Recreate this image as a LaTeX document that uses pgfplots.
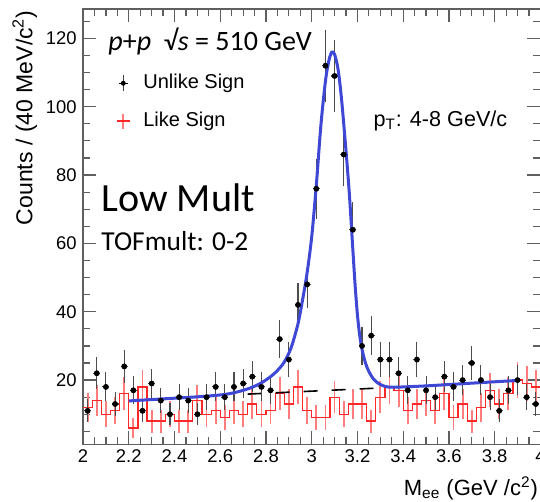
\documentclass[border=0pt]{standalone}
\usepackage{fontspec}
\setmainfont{Liberation Sans}
\newfontfamily\calib{Carlito}
\usepackage{pgfplots}
\usepackage{pgfplotstable}
\pgfplotsset{compat=1.18}

\definecolor{fitblue}{RGB}{62,72,212}
\definecolor{lsred}{RGB}{255,40,40}
\definecolor{lserr}{RGB}{255,125,125}
\definecolor{framegray}{RGB}{95,95,95}

% unlike-sign pairs: bin centre, counts, stat. error
\pgfplotstableread{
x    y   ey
2.02 11  3.32
2.06 22  4.69
2.10 18  4.24
2.14 13  3.61
2.18 24  4.90
2.22 17  4.12
2.26 11  3.32
2.30 19  4.36
2.34 14  3.74
2.38 10  3.16
2.42 15  3.87
2.46 14  3.74
2.50 10  3.16
2.54 15  3.87
2.58 18  4.24
2.62 15  3.87
2.66 18  4.24
2.70 19  4.36
2.74 21  4.58
2.78 18  4.24
2.82 17  4.12
2.86 32  5.66
2.90 26  5.10
2.94 42  6.48
2.98 48  6.93
3.02 76  8.72
3.06 112 10.58
3.10 109 10.44
3.14 86  9.27
3.18 64  8.00
3.22 30  5.48
3.26 33  5.74
3.30 26  5.10
3.34 26  5.10
3.38 22  4.69
3.42 17  4.12
3.46 26  5.10
3.50 17  4.12
3.54 15  3.87
3.58 21  4.58
3.62 18  4.24
3.66 20  4.47
3.70 25  5.00
3.74 20  4.47
3.78 15  3.87
3.82 11  3.32
3.86 17  4.12
3.90 20  4.47
3.94 15  3.87
3.98 13  3.61
}\unlike

% like-sign pairs: left edge, bin centre, counts, error
\pgfplotstableread{
xl   x    y  ey
2.00 2.02 12 4.16
2.04 2.06 14 4.49
2.08 2.10 10 3.79
2.12 2.14 11 3.98
2.16 2.18 16 4.80
2.20 2.22 6  2.94
2.24 2.26 18 5.09
2.28 2.30 8  3.39
2.32 2.34 8  3.39
2.36 2.38 10 3.79
2.40 2.42 8  3.39
2.44 2.46 8  3.39
2.48 2.50 14 4.49
2.52 2.54 10 3.79
2.56 2.58 11 3.98
2.60 2.62 9  3.60
2.64 2.66 11 3.98
2.68 2.70 10 3.79
2.72 2.74 13 4.33
2.76 2.78 10 3.79
2.80 2.82 11 3.98
2.84 2.86 16 4.80
2.88 2.90 13 4.33
2.92 2.94 18 5.09
2.96 2.98 11 3.98
3.00 3.02 9  3.60
3.04 3.06 9  3.60
3.08 3.10 15 4.65
3.12 3.14 10 3.79
3.16 3.18 13 4.33
3.20 3.22 13 4.33
3.24 3.26 8  3.39
3.28 3.30 15 4.65
3.32 3.34 18 5.09
3.36 3.38 17 4.95
3.40 3.42 11 3.98
3.44 3.46 13 4.33
3.48 3.50 14 4.49
3.52 3.54 11 3.98
3.56 3.58 16 4.80
3.60 3.62 9  3.60
3.64 3.66 13 4.33
3.68 3.70 8  3.39
3.72 3.74 12 4.16
3.76 3.78 17 4.95
3.80 3.82 13 4.33
3.84 3.86 16 4.80
3.88 3.90 20 5.37
3.92 3.94 19 5.23
3.96 3.98 18 5.09
4.00 nan  18 nan
}\likes

\begin{document}
\begin{tikzpicture}
\begin{axis}[
  at={(0,0)}, anchor=south west,
  scale only axis,
  width=228.5pt, height=217.5pt,
  xmin=2, xmax=4, ymin=1.2, ymax=128.6,
  xtick={2,2.2,2.4,2.6,2.8,3,3.2,3.4,3.6,3.8,4},
  minor x tick num=3,
  ytick={20,40,60,80,100,120},
  minor ytick={5,10,15,25,30,35,45,50,55,65,70,75,85,90,95,105,110,115,125},
  axis line style={framegray, line width=0.6pt},
  tick style={framegray, line width=0.6pt},
  major tick length=6.5pt, minor tick length=3.5pt,
  tick label style={font=\fontsize{9.2}{10}\selectfont,
    /pgf/number format/assume math mode=true},
  xticklabel style={inner sep=0pt, yshift=-2.6pt},
  yticklabel style={inner sep=0pt, xshift=-3pt},
  legend cell align=left,
  legend style={at={(0.0722,0.851)}, anchor=north west,
    draw=none, fill=none, inner sep=0pt, outer sep=0pt,
    row sep=9.5pt, column sep=0pt,
    font=\fontsize{10}{12}\selectfont,
    nodes={inner sep=0pt, text height=7.2pt, text depth=2.2pt}},
]
\addlegendimage{legend image code/.code={
  \draw[draw=black!75, line width=0.6pt] (0pt,-4pt) -- (0pt,4pt);
  \draw[draw=black, line width=0.6pt] (-2.2pt,0pt) -- (2.2pt,0pt);
  \fill[fill=black, draw=none] (0pt,0pt) circle (1.25pt);
  \path[draw=none, fill=none] (-3.5pt,-0.1pt) rectangle (10pt,0.1pt);}}
\addlegendentry{Unlike Sign}
\addlegendimage{legend image code/.code={
  \draw[draw=lserr, line width=0.9pt] (0pt,-3.7pt) -- (0pt,3.7pt);
  \draw[draw=lsred, line width=0.6pt] (-3.3pt,0pt) -- (3.3pt,0pt);
  \path[draw=none, fill=none] (-3.5pt,-0.1pt) rectangle (10pt,0.1pt);}}
\addlegendentry{Like Sign}

% like-sign: error bars and step histogram
\addplot[forget plot, only marks, mark=*, mark size=0pt, lserr,
  error bars/.cd, y dir=both, y explicit, error mark=none,
  error bar style={lserr, line width=0.9pt}]
  table[x=x, y=y, y error=ey] {\likes};
\addplot[forget plot, const plot, lsred, line width=0.6pt, mark=none]
  table[x=xl, y=y] {\likes};

% linear background under the peak
\addplot[forget plot, black, line width=0.8pt, dash pattern=on 7pt off 7pt]
  coordinates {(2.72,15.9) (3.27,17.6)};

% unlike-sign data
\addplot[forget plot, only marks, mark=*, mark size=1.25pt, black,
  error bars/.cd, x dir=both, x fixed=0.015, y dir=both, y explicit,
  error mark=none, error bar style={black!70, line width=0.55pt}]
  table[x=x, y=y, y error=ey] {\unlike};

% fit
\addplot[forget plot, fitblue, line width=1.5pt, smooth, tension=0.5]
  coordinates {
  (2.20,13.9) (2.30,14.3) (2.40,14.7) (2.50,15.1) (2.56,15.4) (2.62,15.8)
  (2.66,16.3) (2.70,17.0) (2.74,17.9) (2.78,19.2) (2.82,21.0) (2.85,22.8)
  (2.88,25.3) (2.91,29.5) (2.94,36.5) (2.96,43.5) (2.98,51.5) (3.00,62.0)
  (3.02,77.0) (3.04,94.5) (3.06,107.5) (3.075,113.5) (3.088,116.0)
  (3.10,115.3) (3.115,111.0) (3.13,102.5) (3.15,87.0) (3.165,74.0)
  (3.18,58.0) (3.19,47.5) (3.20,39.0) (3.21,33.0) (3.22,29.0) (3.235,25.0)
  (3.25,22.5) (3.27,20.3) (3.29,19.1) (3.31,18.4) (3.33,18.0) (3.36,17.9)
  (3.40,18.0) (3.50,18.3) (3.60,18.7) (3.70,19.1) (3.80,19.5) (3.90,19.9)
  };
\end{axis}

\node[rotate=90, anchor=base east, inner sep=0pt,
  font=\fontsize{11.5}{12}\selectfont] at (-25.3pt,217pt)
  {Counts / (40 MeV/c\textsuperscript{2})};
\node[anchor=base east, inner sep=0pt, font=\fontsize{11}{12}\selectfont]
  at (227.5pt,-25.6pt) {M\textsubscript{ee} (GeV /c\textsuperscript{2})};
\node[anchor=base west, inner sep=0pt, font=\calib\fontsize{14}{15}\selectfont]
  at (12.5pt,197pt) {\textit{p}+\textit{p}\ \ √\textit{s} = 510 GeV};
\node[anchor=base west, inner sep=0pt, font=\fontsize{10.8}{12}\selectfont]
  at (145pt,159pt) {p\textsubscript{T}: 4-8 GeV/c};
\node[anchor=base west, inner sep=0pt, font=\calib\fontsize{20}{22}\selectfont]
  at (9pt,116.2pt) {Low Mult};
\node[anchor=base west, inner sep=0pt, font=\calib\fontsize{13.7}{15}\selectfont]
  at (9pt,97pt) {TOFmult: 0-2};

\pgfresetboundingbox
\useasboundingbox (-41.5pt,-28.5pt) rectangle (228.3pt,222pt);
\end{tikzpicture}
\end{document}
